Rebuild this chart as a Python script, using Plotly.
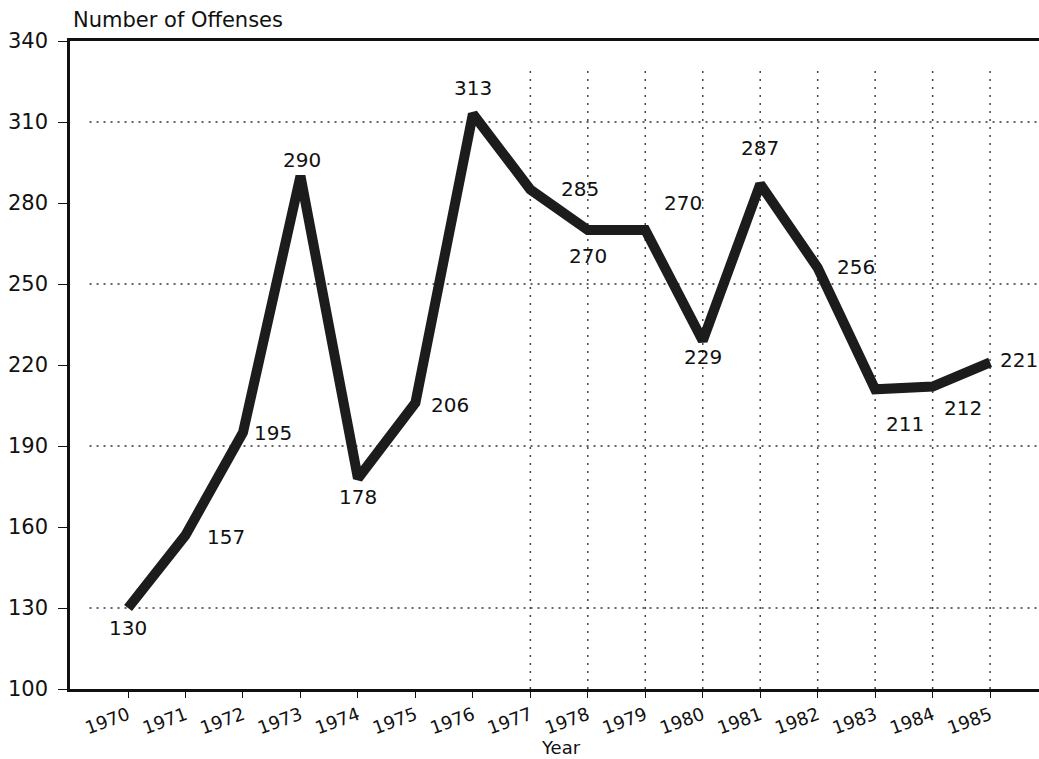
import plotly.graph_objects as go

years = list(range(1970, 1986))
offenses = [130, 157, 195, 290, 178, 206, 313, 285, 270, 270, 229, 287, 256, 211, 212, 221]
y_ticks = [100, 130, 160, 190, 220, 250, 280, 310, 340]
h_grid = [130, 190, 250, 310]
v_grid = [1977, 1978, 1979, 1980, 1981, 1982, 1983, 1984, 1985]

# label offsets in pixels (style only)
label_offsets = [
    (0, -20), (40, -2), (30, 0), (2, 16), (0, -19), (35, -2), (0, 26), (50, 1),
    (0, -26), (38, 27), (0, -16), (0, 36), (38, 1), (30, -35), (30, -21), (29, 2),
]

fig = go.Figure()

for gy in h_grid:
    fig.add_shape(type="line", xref="paper", yref="y", x0=0.02, x1=1, y0=gy, y1=gy,
                  line=dict(color="#333", width=1.5, dash="2px,5px"), layer="below")
for gx in v_grid:
    fig.add_shape(type="line", xref="x", yref="y", x0=gx, x1=gx, y0=100, y1=331,
                  line=dict(color="#444", width=1.5, dash="2px,6px"), layer="below")

fig.add_trace(go.Scatter(x=years, y=offenses, mode="lines",
                         line=dict(color="#1c1c1c", width=10), hoverinfo="skip"))

for (xv, yv), (dx, dy) in zip(zip(years, offenses), label_offsets):
    fig.add_annotation(x=xv, y=yv, text=str(yv), showarrow=False,
                       xshift=dx, yshift=dy,
                       font=dict(family="DejaVu Sans", size=20, color="#111"))

fig.add_annotation(xref="x", yref="paper", x=1969.0, y=1.0, yshift=21,
                   xanchor="left", yanchor="middle", text="Number of Offenses",
                   showarrow=False, font=dict(family="DejaVu Sans", size=21, color="#111"))
fig.add_annotation(xref="x", yref="paper", x=1977.53, y=0, yshift=-58,
                   xanchor="center", yanchor="middle", text="Year",
                   showarrow=False, font=dict(family="DejaVu Sans", size=18, color="#111"))

fig.update_layout(
    width=1047, height=759,
    margin=dict(l=70, r=0, t=41, b=70, autoexpand=False),
    paper_bgcolor="white", plot_bgcolor="white",
    showlegend=False,
    xaxis=dict(range=[1968.99, 1985.99], tickvals=years, ticktext=[str(y) for y in years],
               tickangle=-20, ticks="outside", ticklen=6, tickcolor="#111",
               showline=True, linecolor="#111", linewidth=2.5, mirror=True,
               showgrid=False, zeroline=False, automargin=False,
               tickfont=dict(family="DejaVu Sans", size=18, color="#111")),
    yaxis=dict(range=[100, 340], tickvals=y_ticks, ticks="outside", ticklen=9,
               tickcolor="#111", showline=True, linecolor="#111", linewidth=2.5,
               mirror=False, showgrid=False, zeroline=False, automargin=False,
               ticklabelstandoff=6,
               tickfont=dict(family="DejaVu Sans", size=21, color="#111")),
)

fig.write_html("out.html", config={"displayModeBar": False},
               post_script="document.body.style.margin='0';document.body.style.overflow='hidden';")
